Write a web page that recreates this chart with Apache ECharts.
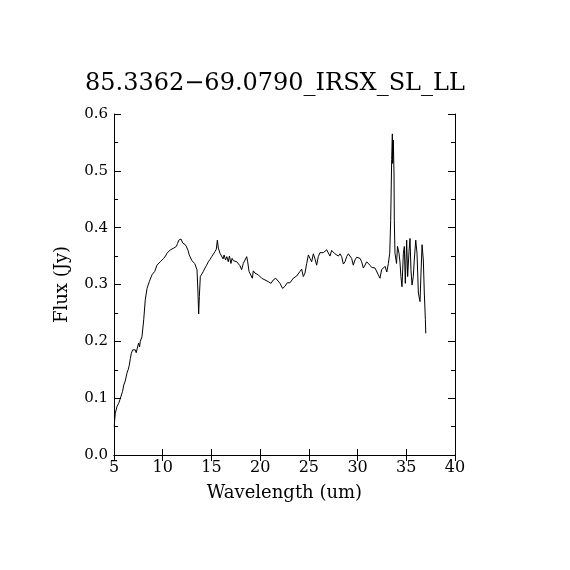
<!DOCTYPE html>
<html>
<head>
<meta charset="utf-8">
<script src="https://cdn.jsdelivr.net/npm/echarts@6/dist/echarts.min.js"></script>
<style>
html,body{margin:0;padding:0;background:#fff;}
#chart{width:570px;height:570px;}
</style>
</head>
<body>
<div id="chart"></div>
<script>
const titleText = '85.3362\u221269.0790_IRSX_SL_LL';
const xTicks = [5, 10, 15, 20, 25, 30, 35, 40];
const yTicks = [0.0, 0.1, 0.2, 0.3, 0.4, 0.5, 0.6];

const wavelength = [
5.03,5.07,5.13,5.30,5.48,5.62,5.75,5.88,6.00,6.15,6.33,6.45,6.57,6.68,6.78,6.92,7.05,7.19,7.28,7.36,
7.45,7.53,7.62,7.70,7.87,8.05,8.21,8.39,8.62,8.90,9.18,9.41,9.55,9.75,9.92,10.10,10.28,10.44,10.60,10.78,
10.95,11.13,11.28,11.40,11.52,11.64,11.76,11.88,12.05,12.20,12.32,12.45,12.60,12.72,12.83,13.00,13.15,13.28,13.40,13.52,
13.62,13.69,13.76,13.86,14.00,14.17,14.34,14.51,14.68,14.85,15.03,15.20,15.37,15.50,15.61,15.71,15.88,16.05,16.20,16.30,
16.45,16.58,16.73,16.85,17.00,17.12,17.25,17.42,17.60,17.76,17.93,18.10,18.27,18.45,18.62,18.72,18.86,19.06,19.20,19.30,
19.47,19.64,19.81,19.98,20.16,20.33,20.50,20.67,20.84,21.11,21.35,21.60,21.80,22.04,22.31,22.55,22.79,23.06,23.23,23.40,
23.57,23.75,23.92,24.09,24.26,24.43,24.60,24.78,24.95,25.12,25.29,25.46,25.63,25.80,25.97,26.14,26.31,26.48,26.66,26.83,
27.00,27.17,27.34,27.51,27.68,27.86,28.03,28.20,28.37,28.54,28.71,28.88,29.05,29.22,29.39,29.56,29.73,29.91,30.25,30.42,
30.59,30.76,30.93,31.10,31.27,31.45,31.79,31.96,32.13,32.30,32.47,32.65,32.82,33.00,33.16,33.30,33.40,33.50,33.57,33.60,
33.67,33.74,33.77,33.84,34.00,34.10,34.25,34.35,34.45,34.56,34.70,34.80,34.90,35.04,35.14,35.28,35.38,35.48,35.59,35.72,
35.82,35.97,36.10,36.24,36.41,36.51,36.62,36.75,36.85,36.96,37.00
];
const flux = [
0.050,0.062,0.073,0.085,0.091,0.098,0.100,0.112,0.123,0.130,0.144,0.150,0.158,0.170,0.179,0.185,0.183,0.185,0.180,0.182,
0.192,0.197,0.190,0.200,0.208,0.238,0.273,0.293,0.305,0.317,0.323,0.334,0.333,0.340,0.342,0.346,0.350,0.355,0.357,0.361,
0.360,0.364,0.362,0.367,0.372,0.378,0.377,0.380,0.373,0.374,0.370,0.366,0.360,0.352,0.349,0.342,0.340,0.337,0.334,0.326,
0.285,0.248,0.279,0.314,0.316,0.323,0.329,0.334,0.340,0.344,0.349,0.352,0.358,0.362,0.378,0.364,0.355,0.352,0.345,0.352,
0.343,0.349,0.340,0.350,0.337,0.346,0.342,0.342,0.340,0.337,0.333,0.326,0.337,0.340,0.349,0.340,0.323,0.320,0.311,0.324,
0.320,0.323,0.317,0.316,0.311,0.313,0.308,0.309,0.305,0.302,0.308,0.311,0.314,0.302,0.293,0.297,0.303,0.303,0.305,0.311,
0.309,0.315,0.314,0.323,0.327,0.314,0.320,0.337,0.352,0.346,0.340,0.354,0.345,0.334,0.349,0.356,0.354,0.356,0.358,0.361,
0.360,0.350,0.360,0.362,0.354,0.356,0.350,0.354,0.349,0.336,0.340,0.349,0.354,0.352,0.346,0.334,0.343,0.348,0.346,0.340,
0.329,0.334,0.340,0.337,0.334,0.330,0.329,0.329,0.317,0.311,0.326,0.326,0.332,0.322,0.337,0.355,0.413,0.520,0.565,0.513,
0.554,0.496,0.413,0.355,0.337,0.367,0.355,0.340,0.314,0.296,0.355,0.367,0.302,0.378,0.314,0.358,0.381,0.326,0.299,0.314,
0.343,0.378,0.355,0.285,0.270,0.320,0.370,0.343,0.285,0.238,0.214
];

const seriesData = wavelength.map((w, i) => [w, flux[i]]);
const FONT = 'DejaVu Serif';

const axisLine = { show: true, lineStyle: { color: '#000', width: 1 } };
const xBase = {
  type: 'value', min: xTicks[0], max: xTicks[xTicks.length - 1], interval: 5,
  axisLine: axisLine, splitLine: { show: false },
  axisTick: { show: true, inside: true, length: 6, lineStyle: { color: '#000' } }
};
const yBase = {
  type: 'value', min: yTicks[0], max: yTicks[yTicks.length - 1], interval: 0.1,
  axisLine: axisLine, splitLine: { show: false },
  axisTick: { show: true, inside: true, length: 7, lineStyle: { color: '#000' } },
  minorTick: { show: true, splitNumber: 2, length: 4, lineStyle: { color: '#000' } }
};

const chart = echarts.init(document.getElementById('chart'), null, { renderer: 'canvas' });
chart.setOption({
  backgroundColor: '#fff',
  animation: false,
  title: {
    text: titleText, left: 80, top: 67,
    textStyle: { fontFamily: FONT, fontWeight: 'normal', fontSize: 24, color: '#000' }
  },
  grid: { left: 114, top: 114, width: 341, height: 341, containLabel: false },
  xAxis: [
    Object.assign({}, xBase, {
      position: 'bottom',
      axisLabel: { show: true, fontFamily: FONT, fontSize: 16, color: '#000', margin: 5 },
      name: 'Wavelength (um)', nameLocation: 'middle', nameGap: 29,
      nameTextStyle: { fontFamily: FONT, fontSize: 18, color: '#000' }
    }),
    Object.assign({}, xBase, { position: 'top', axisLabel: { show: false } })
  ],
  yAxis: [
    Object.assign({}, yBase, {
      position: 'left',
      axisLabel: { show: true, fontFamily: FONT, fontSize: 15, color: '#000', margin: 6,
        formatter: v => v.toFixed(1) },
      name: 'Flux (Jy)', nameLocation: 'middle', nameGap: 43, nameRotate: 90,
      nameTextStyle: { fontFamily: FONT, fontSize: 18, color: '#000' }
    }),
    Object.assign({}, yBase, { position: 'right', axisLabel: { show: false } })
  ],
  series: [{
    type: 'line', data: seriesData, showSymbol: false, symbol: 'none',
    xAxisIndex: 0, yAxisIndex: 0,
    lineStyle: { color: '#000', width: 1 }, silent: true
  }]
});
</script>
</body>
</html>
